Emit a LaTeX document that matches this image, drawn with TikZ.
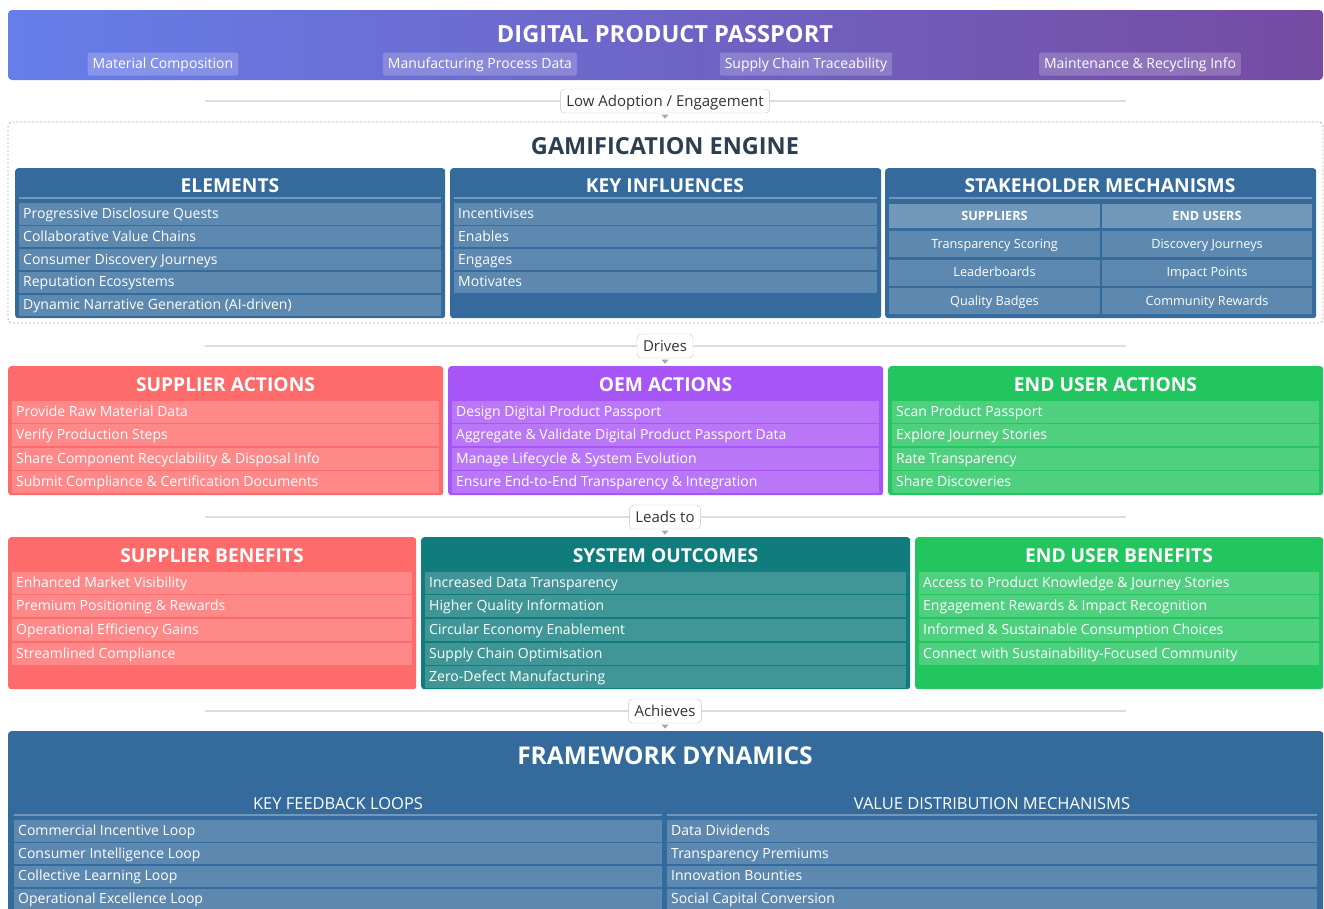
\documentclass[tikz,border=0pt]{standalone}
\usepackage{fontspec}
\setmainfont{Open Sans}
\usetikzlibrary{calc,shadings}

\definecolor{dppA}{HTML}{667EEA}
\definecolor{dppB}{HTML}{764BA2}
\definecolor{engblue}{HTML}{356B9C}
\definecolor{supred}{HTML}{FF6B6B}
\definecolor{oempurple}{HTML}{A855F7}
\definecolor{usergreen}{HTML}{22C55E}
\definecolor{systeal}{HTML}{117C7C}
\definecolor{darktitle}{HTML}{2C3E50}
\definecolor{linegray}{HTML}{DDDDDD}
\definecolor{boxgray}{HTML}{C4C4C4}
\definecolor{dashgray}{HTML}{B0B0B0}
\definecolor{tipgray}{HTML}{A8A8A8}
\definecolor{labeltext}{HTML}{333333}

% one list of rows: prefix, left x, right x, first centre y, pitch, half height, items
\newcommand\itemlist[7]{%
  \foreach \txt [count=\k] in {#7}{%
    \pgfmathsetmacro\yc{#4+(\k-1)*#5}%
    \fill[itembg] (#2,\yc-#6) rectangle (#3,\yc+#6);
    \node[itemtxt] (#1\k) at (#2+4,\yc) {\txt};
  }}

\begin{document}
\begin{tikzpicture}[x=1pt,y=-1pt,
  itembg/.style={fill=white, fill opacity=0.2},
  itemtxt/.style={font=\fontsize{14}{16}\selectfont, text=white, anchor=west, inner sep=0pt,
                  text height=11pt, text depth=2pt},
  cell/.style={font=\fontsize{12.7}{14}\selectfont, text=white, inner sep=0pt,
               text height=10pt, text depth=2pt},
  paneltitle/.style={font=\bfseries\fontsize{19.2}{21}\selectfont, text=white, inner sep=0pt},
  panel/.style={anchor=north west, rounded corners=3pt, inner sep=0pt},
  tag/.style={fill=white, fill opacity=0.2, text opacity=1, text=white, rounded corners=2pt,
              font=\fontsize{14}{16}\selectfont, inner xsep=5pt, minimum height=23pt,
              text height=11pt, text depth=2pt},
  conn/.style={draw=linegray, line width=1.3pt},
  connlabel/.style={draw=boxgray, fill=white, rounded corners=4pt, text=labeltext,
                    font=\fontsize{15}{17}\selectfont, inner xsep=6pt, minimum height=24pt,
                    text height=12pt, text depth=2pt},
  tip/.style={fill=tipgray},
  subline/.style={draw=white, draw opacity=0.3, line width=1.2pt}]

\useasboundingbox (0,0) rectangle (1324,908);
\clip (0,0) rectangle (1324,908);

% ---------------- Digital product passport ----------------
\shade[left color=dppA, right color=dppB, rounded corners=4pt] (8,10) rectangle (1323,80);
\node[font=\bfseries\fontsize{23.6}{26}\selectfont, text=white] (dpp) at (665,34.5) {DIGITAL PRODUCT PASSPORT};
\node[tag] (t1) at (163,64) {Material Composition};
\node[tag] (t2) at (480,64) {Manufacturing Process Data};
\node[tag] (t3) at (806,64) {Supply Chain Traceability};
\node[tag] (t4) at (1140,64) {Maintenance \& Recycling Info};

\coordinate (c1a) at (205,101); \coordinate (c1b) at (1126,101);
\draw[conn] (c1a) -- (c1b);
\node[connlabel] (lab1) at (665,101) {Low Adoption / Engagement};
\fill[tip] ($(lab1.south)+(-3.5,1.5)$) -- ++(7,0) -- ++(-3.5,4) -- cycle;

% ---------------- Gamification engine ----------------
\draw[draw=dashgray, line width=0.9pt, dash pattern=on 2pt off 2pt, rounded corners=4pt] (8,122) rectangle (1323,323);
\node[font=\bfseries\fontsize{23.5}{26}\selectfont, text=darktitle] (geng) at (665,146.5) {GAMIFICATION ENGINE};

\node[panel, fill=engblue, minimum width=430pt, minimum height=150pt] (elem) at (15,168) {};
\node[panel, fill=engblue, minimum width=431pt, minimum height=150pt] (infl) at (450,168) {};
\node[panel, fill=engblue, minimum width=431pt, minimum height=150pt] (stak) at (885,168) {};

\node[paneltitle] (elemT) at (230,186) {ELEMENTS};
\node[paneltitle] (inflT) at (665,186) {KEY INFLUENCES};
\node[paneltitle] (stakT) at (1100,186) {STAKEHOLDER MECHANISMS};
\draw[subline] (19,198) -- (441,198);
\draw[subline] (454,198) -- (877,198);
\draw[subline] (889,198) -- (1312,198);

\itemlist{el}{19}{441}{214}{22.8}{10.6}{Progressive Disclosure Quests,Collaborative Value Chains,Consumer Discovery Journeys,Reputation Ecosystems,Dynamic Narrative Generation (AI-driven)}
\itemlist{in}{454}{877}{214}{22.8}{10.6}{Incentivises,Enables,Engages,Motivates}

% stakeholder table
\fill[white, fill opacity=0.3] (889,204) rectangle (1100,228);
\fill[white, fill opacity=0.3] (1102,204) rectangle (1312,228);
\node[cell, font=\bfseries\fontsize{12.7}{14}\selectfont] (shS) at (994.5,216) {SUPPLIERS};
\node[cell, font=\bfseries\fontsize{12.7}{14}\selectfont] (shE) at (1207,216) {END USERS};
\foreach \a/\b [count=\k] in {Transparency Scoring/Discovery Journeys, Leaderboards/Impact Points, Quality Badges/Community Rewards}{
  \pgfmathsetmacro\yc{244+(\k-1)*28.5}
  \fill[itembg] (889,\yc-13) rectangle (1100,\yc+13);
  \fill[itembg] (1102,\yc-13) rectangle (1312,\yc+13);
  \node[cell] (sS\k) at (994.5,\yc) {\a};
  \node[cell] (sE\k) at (1207,\yc) {\b};
}

\coordinate (c2a) at (205,346); \coordinate (c2b) at (1126,346);
\draw[conn] (c2a) -- (c2b);
\node[connlabel] (lab2) at (665,346) {Drives};
\fill[tip] ($(lab2.south)+(-3.5,1.5)$) -- ++(7,0) -- ++(-3.5,4) -- cycle;

% ---------------- Actions ----------------
\node[panel, fill=supred, minimum width=435pt, minimum height=129pt] (supA) at (8,366) {};
\node[panel, fill=oempurple, minimum width=435pt, minimum height=129pt] (oemA) at (448,366) {};
\node[panel, fill=usergreen, minimum width=435pt, minimum height=129pt] (usrA) at (888,366) {};
\node[paneltitle] (supAT) at (225.5,385) {SUPPLIER ACTIONS};
\node[paneltitle] (oemAT) at (665.5,385) {OEM ACTIONS};
\node[paneltitle] (usrAT) at (1105.5,385) {END USER ACTIONS};
\itemlist{sa}{12}{439}{411.5}{23.6}{11}{Provide Raw Material Data,Verify Production Steps,Share Component Recyclability \& Disposal Info,Submit Compliance \& Certification Documents}
\itemlist{oa}{452}{879}{411.5}{23.6}{11}{Design Digital Product Passport,Aggregate \& Validate Digital Product Passport Data,Manage Lifecycle \& System Evolution,Ensure End-to-End Transparency \& Integration}
\itemlist{ua}{892}{1319}{411.5}{23.6}{11}{Scan Product Passport,Explore Journey Stories,Rate Transparency,Share Discoveries}

\coordinate (c3a) at (205,517); \coordinate (c3b) at (1126,517);
\draw[conn] (c3a) -- (c3b);
\node[connlabel] (lab3) at (665,517) {Leads to};
\fill[tip] ($(lab3.south)+(-3.5,1.5)$) -- ++(7,0) -- ++(-3.5,4) -- cycle;

% ---------------- Benefits and outcomes ----------------
\node[panel, fill=supred, minimum width=408pt, minimum height=152pt] (supB) at (8,537) {};
\node[panel, fill=systeal, minimum width=489pt, minimum height=152pt] (sysO) at (421,537) {};
\node[panel, fill=usergreen, minimum width=408pt, minimum height=152pt] (usrB) at (915,537) {};
\node[paneltitle] (supBT) at (212,556) {SUPPLIER BENEFITS};
\node[paneltitle] (sysOT) at (665.5,556) {SYSTEM OUTCOMES};
\node[paneltitle] (usrBT) at (1119,556) {END USER BENEFITS};
\itemlist{sb}{12}{412}{582.5}{23.7}{11}{Enhanced Market Visibility,Premium Positioning \& Rewards,Operational Efficiency Gains,Streamlined Compliance}
\itemlist{so}{425}{906}{582.5}{23.7}{11}{Increased Data Transparency,Higher Quality Information,Circular Economy Enablement,Supply Chain Optimisation,Zero-Defect Manufacturing}
\itemlist{ub}{919}{1319}{582.5}{23.7}{11}{Access to Product Knowledge \& Journey Stories,Engagement Rewards \& Impact Recognition,Informed \& Sustainable Consumption Choices,Connect with Sustainability-Focused Community}

\coordinate (c4a) at (205,711); \coordinate (c4b) at (1126,711);
\draw[conn] (c4a) -- (c4b);
\node[connlabel] (lab4) at (665,711) {Achieves};
\fill[tip] ($(lab4.south)+(-3.5,1.5)$) -- ++(7,0) -- ++(-3.5,4) -- cycle;

% ---------------- Framework dynamics ----------------
\node[panel, fill=engblue, minimum width=1315pt, minimum height=200pt] (fw) at (8,731) {};
\node[font=\bfseries\fontsize{24.5}{27}\selectfont, text=white] (fwT) at (665,755.5) {FRAMEWORK DYNAMICS};
\node[font=\fontsize{16.5}{18}\selectfont, text=white] (kfl) at (338,803.5) {KEY FEEDBACK LOOPS};
\node[font=\fontsize{16.5}{18}\selectfont, text=white] (vdm) at (992,803.5) {VALUE DISTRIBUTION MECHANISMS};
\draw[subline] (14,815) -- (662,815);
\draw[subline] (667,815) -- (1317,815);
\itemlist{fl}{14}{662}{831}{22.7}{10.6}{Commercial Incentive Loop,Consumer Intelligence Loop,Collective Learning Loop,Operational Excellence Loop}
\itemlist{vd}{667}{1317}{831}{22.7}{10.6}{Data Dividends,Transparency Premiums,Innovation Bounties,Social Capital Conversion}

\end{tikzpicture}
\end{document}
